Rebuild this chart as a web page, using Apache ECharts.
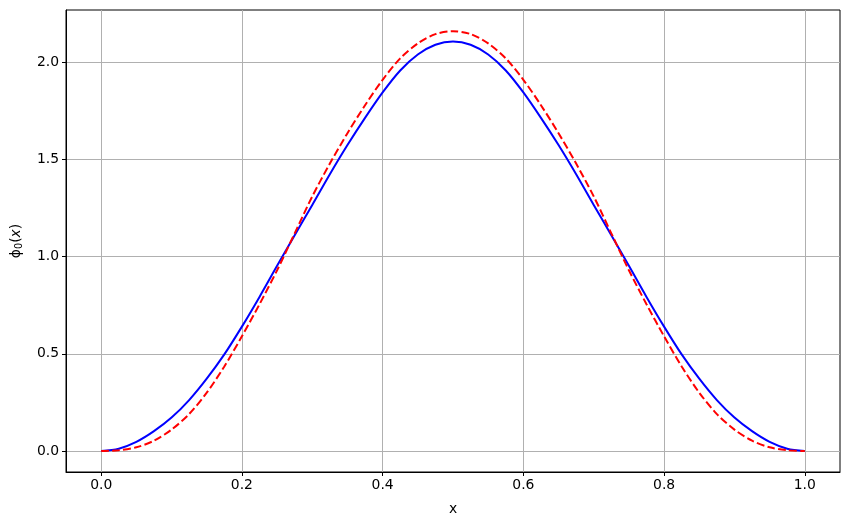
<!DOCTYPE html>
<html>
<head>
<meta charset="utf-8">
<script src="https://cdn.jsdelivr.net/npm/echarts@6/dist/echarts.min.js"></script>
<style>
  html, body { margin: 0; padding: 0; background: #fff; }
  #chart { width: 850px; height: 525px; }
</style>
</head>
<body>
<div id="chart"></div>
<script>
// sample positions along x
var xs = [0, 0.025, 0.05, 0.075, 0.1, 0.125, 0.15, 0.175, 0.2, 0.225, 0.25,
  0.275, 0.3, 0.325, 0.35, 0.375, 0.4, 0.425, 0.45, 0.475, 0.5,
  0.525, 0.55, 0.575, 0.6, 0.625, 0.65, 0.675, 0.7, 0.725, 0.75,
  0.775, 0.8, 0.825, 0.85, 0.875, 0.9, 0.925, 0.95, 0.975, 1.0];
// blue solid curve
var phiSolid = [0, 0.012, 0.047, 0.102, 0.172, 0.262, 0.372, 0.497, 0.64, 0.793, 0.953,
  1.11, 1.266, 1.424, 1.574, 1.714, 1.845, 1.958, 2.04, 2.09, 2.107,
  2.09, 2.04, 1.958, 1.845, 1.714, 1.574, 1.424, 1.266, 1.11, 0.953,
  0.793, 0.64, 0.497, 0.372, 0.262, 0.172, 0.102, 0.047, 0.012, 0];
// red dashed curve
var phiDashed = [0, 0.004, 0.019, 0.053, 0.11, 0.19, 0.30, 0.435, 0.59, 0.755, 0.93,
  1.12, 1.31, 1.479, 1.635, 1.779, 1.91, 2.02, 2.097, 2.145, 2.16,
  2.145, 2.097, 2.02, 1.91, 1.779, 1.635, 1.479, 1.31, 1.12, 0.93,
  0.755, 0.59, 0.435, 0.30, 0.19, 0.11, 0.053, 0.019, 0.004, 0];
var xTicks = [0, 0.2, 0.4, 0.6, 0.8, 1.0];
var yTicks = [0, 0.5, 1.0, 1.5, 2.0];

function pairs(ys) {
  return xs.map(function (x, i) { return [x, ys[i]]; });
}

var font = 'DejaVu Sans';
var chart = echarts.init(document.getElementById('chart'));
chart.setOption({
  animation: false,
  grid: {
    left: 66, right: 10, top: 10, bottom: 53,
    containLabel: false,
    outerBoundsMode: 'none',
    show: true, borderColor: '#000', borderWidth: 1
  },
  xAxis: {
    type: 'value',
    min: -0.05, max: 1.05,
    name: 'x',
    nameLocation: 'middle',
    nameGap: 30,
    nameTextStyle: { fontFamily: font, fontSize: 13.9, color: '#000' },
    axisLine: { show: true, onZero: false, lineStyle: { color: '#000', width: 1 } },
    axisTick: { show: true, customValues: xTicks, length: 4, lineStyle: { color: '#000' } },
    axisLabel: {
      customValues: xTicks, fontFamily: font, fontSize: 13.9, color: '#000', margin: 6,
      formatter: function (v) { return v.toFixed(1); }
    },
    splitLine: { show: true, lineStyle: { color: '#b0b0b0', width: 1 } }
  },
  yAxis: {
    type: 'value',
    min: -0.108, max: 2.269,
    name: '{a|ϕ}{s|0}{a|(}{i|x}{a|)}',
    nameLocation: 'middle',
    nameRotate: 90,
    nameGap: 42,
    nameTextStyle: {
      rich: {
        a: { fontFamily: font, fontSize: 13.9, color: '#000' },
        i: { fontFamily: font, fontSize: 13.9, fontStyle: 'italic', color: '#000' },
        s: { fontFamily: font, fontSize: 9.7, color: '#000', verticalAlign: 'bottom', padding: [6, 0, 0, 0] }
      }
    },
    axisLine: { show: true, onZero: false, lineStyle: { color: '#000', width: 1 } },
    axisTick: { show: true, customValues: yTicks, length: 4, lineStyle: { color: '#000' } },
    axisLabel: {
      customValues: yTicks, fontFamily: font, fontSize: 13.9, color: '#000', margin: 7,
      formatter: function (v) { return v.toFixed(1); }
    },
    splitLine: { show: true, lineStyle: { color: '#b0b0b0', width: 1 } }
  },
  series: [
    {
      name: 'solid',
      type: 'line',
      data: pairs(phiSolid),
      smooth: 0.3,
      showSymbol: false,
      lineStyle: { color: '#0000ff', width: 2 }
    },
    {
      name: 'dashed',
      type: 'line',
      data: pairs(phiDashed),
      smooth: 0.3,
      showSymbol: false,
      lineStyle: { color: '#ff0000', width: 2, type: [7.7, 3.3] }
    }
  ]
});
</script>
</body>
</html>
